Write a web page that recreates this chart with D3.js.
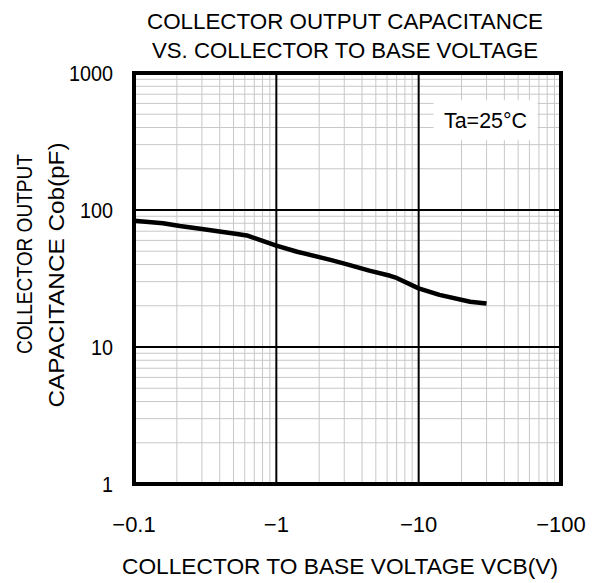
<!DOCTYPE html>
<html>
<head>
<meta charset="utf-8">
<script src="https://cdn.jsdelivr.net/npm/d3@7"></script>
<style>
  body { margin: 0; background: #fff; }
  text { font-family: 'Liberation Sans', Arial, sans-serif; fill: #000; }
</style>
</head>
<body>
<div id="container"></div>
<script>
// Cob vs VCB (VCB plotted as magnitude, labelled negative)
var vcb = [0.1, 0.16, 0.21, 0.3, 0.53, 0.62, 1.0, 1.4, 2.4, 3.1, 4.5, 6.3, 7.0, 10, 14, 23, 30];
var cob = [83.5, 80, 76.4, 72.7, 66.8, 65.2, 55, 49.6, 43.2, 40.3, 36.1, 33.1, 31.9, 26.8, 24.0, 21.4, 20.8];

var xTicks = [0.1, 1, 10, 100];
var xTickLabels = ['\u22120.1', '\u22121', '\u221210', '\u2212100'];
var yTicks = [1, 10, 100, 1000];
var yTickLabels = ['1', '10', '100', '1000'];

var titleLines = ['COLLECTOR OUTPUT CAPACITANCE', 'VS. COLLECTOR TO BASE VOLTAGE'];
var xTitle = 'COLLECTOR TO BASE VOLTAGE VCB(V)';
var yTitleLines = ['COLLECTOR OUTPUT', 'CAPACITANCE  Cob(pF)'];
var note = 'Ta=25\u00b0C';

var chart = {};
chart.margin = {top: 73, right: 39, bottom: 99, left: 134};
chart.width = 600 - chart.margin.left - chart.margin.right;
chart.height = 583 - chart.margin.top - chart.margin.bottom;

var svg = d3.select('#container').append('svg')
  .attr('width', 600)
  .attr('height', 583);

var g = svg.append('g')
  .attr('transform', 'translate(' + chart.margin.left + ',' + chart.margin.top + ')');

var x = d3.scaleLog().domain([0.1, 100]).range([0, chart.width]);
var y = d3.scaleLog().domain([1, 1000]).range([chart.height, 0]);

// minor grid
var minorX = [], minorY = [];
[0.1, 1, 10].forEach(function(d) {
  for (var k = 2; k <= 9; k++) minorX.push(d * k);
});
[1, 10, 100].forEach(function(d) {
  for (var k = 2; k <= 9; k++) minorY.push(d * k);
});

g.selectAll('.minor-x')
  .data(minorX)
  .enter().append('line')
    .attr('x1', function(d) { return x(d); })
    .attr('x2', function(d) { return x(d); })
    .attr('y1', 0)
    .attr('y2', chart.height)
    .attr('stroke', '#c8c8c8')
    .attr('stroke-width', 1);

g.selectAll('.minor-y')
  .data(minorY)
  .enter().append('line')
    .attr('x1', 0)
    .attr('x2', chart.width)
    .attr('y1', function(d) { return y(d); })
    .attr('y2', function(d) { return y(d); })
    .attr('stroke', '#c8c8c8')
    .attr('stroke-width', 1);

// note box hides grid behind it
g.append('rect')
  .attr('x', x(20) - 28)
  .attr('y', y(500) - 14)
  .attr('width', 104)
  .attr('height', 40)
  .attr('fill', '#fff');

// major grid
g.selectAll('.major-x')
  .data(xTicks.slice(1, -1))
  .enter().append('line')
    .attr('x1', function(d) { return x(d); })
    .attr('x2', function(d) { return x(d); })
    .attr('y1', 0)
    .attr('y2', chart.height)
    .attr('stroke', '#000')
    .attr('stroke-width', 2);

g.selectAll('.major-y')
  .data(yTicks.slice(1, -1))
  .enter().append('line')
    .attr('x1', 0)
    .attr('x2', chart.width)
    .attr('y1', function(d) { return y(d); })
    .attr('y2', function(d) { return y(d); })
    .attr('stroke', '#000')
    .attr('stroke-width', 2);

// curve
var line = d3.line()
  .x(function(d, i) { return x(vcb[i]); })
  .y(function(d) { return y(d); });

g.append('path')
  .datum(cob)
  .attr('d', line)
  .attr('fill', 'none')
  .attr('stroke', '#000')
  .attr('stroke-width', 4.5)
  .attr('stroke-linejoin', 'round');

// frame
g.append('rect')
  .attr('x', 0)
  .attr('y', 0)
  .attr('width', chart.width)
  .attr('height', chart.height)
  .attr('fill', 'none')
  .attr('stroke', '#000')
  .attr('stroke-width', 4);

g.append('text')
  .attr('x', x(20) + 24)
  .attr('y', y(500) + 14)
  .attr('text-anchor', 'middle')
  .attr('font-size', 22)
  .attr('textLength', 83)
  .attr('lengthAdjust', 'spacingAndGlyphs')
  .text(note);

// tick labels
g.selectAll('.xlab')
  .data(xTicks)
  .enter().append('text')
    .attr('x', function(d) { return x(d); })
    .attr('y', chart.height + 48)
    .attr('text-anchor', 'middle')
    .attr('font-size', 22)
    .text(function(d, i) { return xTickLabels[i]; });

g.selectAll('.ylab')
  .data(yTicks)
  .enter().append('text')
    .attr('x', -21)
    .attr('y', function(d) { return y(d) + 8; })
    .attr('text-anchor', 'end')
    .attr('font-size', 22)
    .attr('textLength', function(d, i) { return yTickLabels[i].length * 11; })
    .attr('lengthAdjust', 'spacingAndGlyphs')
    .text(function(d, i) { return yTickLabels[i]; });

// titles
svg.selectAll('.title')
  .data(titleLines)
  .enter().append('text')
    .attr('x', 345)
    .attr('y', function(d, i) { return 29 + i * 29; })
    .attr('text-anchor', 'middle')
    .attr('font-size', 22)
    .attr('textLength', function(d, i) { return i === 0 ? 396 : 386; })
    .attr('lengthAdjust', 'spacingAndGlyphs')
    .text(function(d) { return d; });

svg.append('text')
  .attr('x', 340)
  .attr('y', 574)
  .attr('text-anchor', 'middle')
  .attr('font-size', 22)
  .attr('textLength', 436)
  .attr('lengthAdjust', 'spacingAndGlyphs')
  .text(xTitle);

svg.selectAll('.ytitle')
  .data(yTitleLines)
  .enter().append('text')
    .attr('transform', function(d, i) {
      return i === 0 ? 'translate(32,254) rotate(-90)' : 'translate(64,275) rotate(-90)';
    })
    .attr('text-anchor', 'middle')
    .attr('font-size', 22)
    .attr('textLength', function(d, i) { return i === 0 ? 200 : 265; })
    .attr('lengthAdjust', 'spacingAndGlyphs')
    .text(function(d) { return d; });
</script>
</body>
</html>
